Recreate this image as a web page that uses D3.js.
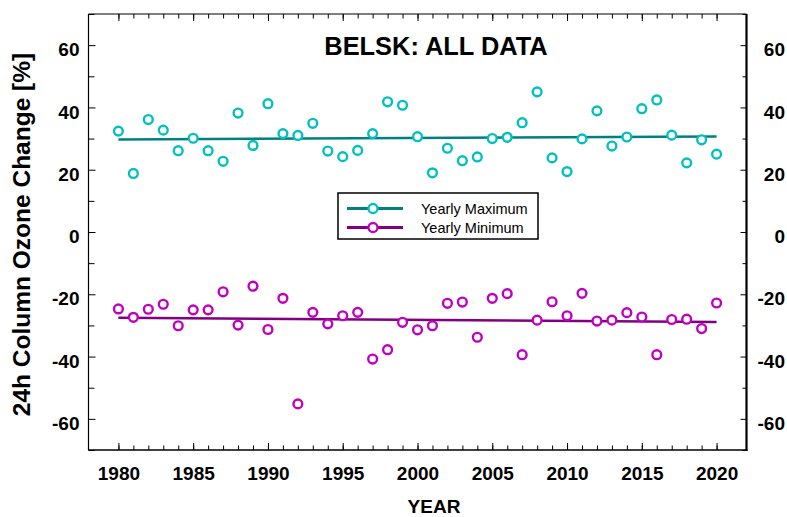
<!DOCTYPE html>
<html>
<head>
<meta charset="utf-8">
<script src="https://cdn.jsdelivr.net/npm/d3@7"></script>
<style>
  body { margin: 0; background: #fff; }
  text { font-family: "Liberation Sans", Arial, sans-serif; }
</style>
</head>
<body>
<script>
// data
var years = d3.range(1980, 2021);
var yearlyMax = [32.4, 18.8, 36.1, 32.7, 26.1, 30.1, 26.1, 22.7, 38.2, 27.8,
                 41.2, 31.6, 31.0, 34.9, 26.0, 24.2, 26.2, 31.6, 41.8, 40.7,
                 30.6, 19.0, 26.9, 22.9, 24.1, 30.0, 30.4, 35.1, 45.0, 23.8,
                 19.4, 29.9, 38.9, 27.6, 30.5, 39.6, 42.4, 31.1, 22.2, 29.6, 25.0];
var yearlyMin = [-24.7, -27.4, -24.8, -23.2, -30.1, -25.0, -25.0, -19.2, -29.9, -17.4,
                 -31.3, -21.3, -55.2, -25.8, -29.5, -26.9, -25.8, -40.8, -37.8, -29.0,
                 -31.4, -30.1, -22.9, -22.5, -33.8, -21.3, -19.8, -39.4, -28.3, -22.4,
                 -26.9, -19.7, -28.6, -28.3, -25.9, -27.3, -39.4, -28.1, -28.0, -31.0, -22.8];
// trend line end points (1980, 2020)
var trendYears = [1980, 2020];
var trendMax = [29.7, 30.7];
var trendMin = [-27.5, -28.9];
var yTicks = [-60, -40, -20, 0, 20, 40, 60];
var yMinorTicks = [-70, -50, -30, -10, 10, 30, 50, 70];
var xTicks = [1980, 1985, 1990, 1995, 2000, 2005, 2010, 2015, 2020];

var width = 787, height = 517;
var plotLeft = 88.5, plotRight = 746.5, plotTop = 14, plotBottom = 450;

var svg = d3.select("body").append("svg")
    .attr("width", width)
    .attr("height", height);

// scales
var x = d3.scaleLinear().domain([1978, 2022]).range([plotLeft, plotRight]);
var y = d3.scaleLinear().domain([-70, 70]).range([plotBottom, plotTop]);

// plain hyphen for negatives, like the original
function plainFormat(d) { return String(d); }

function styleAxis(g) {
    g.select(".domain").remove();
    g.selectAll("line").attr("stroke", "#000").attr("stroke-width", 1);
    g.selectAll("text")
        .style("font-size", "19px")
        .style("font-weight", "bold")
        .attr("fill", "#000");
}

// bottom axis, ticks pointing inward
svg.append("g")
    .attr("transform", "translate(0," + plotBottom + ")")
    .call(d3.axisBottom(x).tickValues(years).tickSize(-4.5).tickFormat(""))
    .call(styleAxis);
svg.append("g")
    .attr("transform", "translate(0," + plotBottom + ")")
    .call(d3.axisBottom(x).tickValues(xTicks).tickSize(-7).tickPadding(16.5).tickFormat(plainFormat))
    .call(styleAxis);

// top axis ticks
svg.append("g")
    .attr("transform", "translate(0," + plotTop + ")")
    .call(d3.axisTop(x).tickValues(years).tickSize(-4.5).tickFormat(""))
    .call(styleAxis);
svg.append("g")
    .attr("transform", "translate(0," + plotTop + ")")
    .call(d3.axisTop(x).tickValues(xTicks).tickSize(-7).tickFormat(""))
    .call(styleAxis);

// left axis
svg.append("g")
    .attr("transform", "translate(" + plotLeft + ",0)")
    .call(d3.axisLeft(y).tickValues(yMinorTicks).tickSize(-6).tickFormat(""))
    .call(styleAxis);
svg.append("g")
    .attr("transform", "translate(" + plotLeft + ",0)")
    .call(d3.axisLeft(y).tickValues(yTicks).tickSize(-7).tickPadding(9).tickFormat(plainFormat))
    .call(styleAxis)
    .selectAll("text").attr("dy", "0.56em");

// right axis, labels right aligned
svg.append("g")
    .attr("transform", "translate(" + plotRight + ",0)")
    .call(d3.axisRight(y).tickValues(yMinorTicks).tickSize(-4).tickFormat(""))
    .call(styleAxis);
svg.append("g")
    .attr("transform", "translate(" + plotRight + ",0)")
    .call(d3.axisRight(y).tickValues(yTicks).tickSize(-6).tickFormat(plainFormat))
    .call(styleAxis)
    .selectAll("text")
    .attr("x", 38.5)
    .attr("text-anchor", "end")
    .attr("dy", "0.56em");

// frame
svg.append("line").attr("x1", plotLeft).attr("x2", plotRight).attr("y1", plotTop).attr("y2", plotTop)
    .attr("stroke", "#000").attr("stroke-width", 1.2);
svg.append("line").attr("x1", plotLeft).attr("x2", plotLeft).attr("y1", plotTop).attr("y2", plotBottom)
    .attr("stroke", "#000").attr("stroke-width", 1.2);
svg.append("line").attr("x1", plotLeft).attr("x2", plotRight + 1).attr("y1", plotBottom).attr("y2", plotBottom)
    .attr("stroke", "#000").attr("stroke-width", 1.6);
svg.append("line").attr("x1", plotRight).attr("x2", plotRight).attr("y1", plotTop).attr("y2", plotBottom + 0.8)
    .attr("stroke", "#000").attr("stroke-width", 2.2);

// trend lines
var trendLine = d3.line()
    .x(function (d) { return x(d[0]); })
    .y(function (d) { return y(d[1]); });

svg.append("path")
    .datum(d3.zip(trendYears, trendMax))
    .attr("fill", "none")
    .attr("stroke", "#008080")
    .attr("stroke-width", 2.5)
    .attr("d", trendLine);

svg.append("path")
    .datum(d3.zip(trendYears, trendMin))
    .attr("fill", "none")
    .attr("stroke", "#800080")
    .attr("stroke-width", 2.5)
    .attr("d", trendLine);

// markers
svg.append("g").selectAll("circle")
    .data(d3.zip(years, yearlyMax))
    .enter().append("circle")
    .attr("cx", function (d) { return x(d[0]); })
    .attr("cy", function (d) { return y(d[1]); })
    .attr("r", 4.4)
    .attr("fill", "#fff")
    .attr("stroke", "#00c0c0")
    .attr("stroke-width", 2.4);

svg.append("g").selectAll("circle")
    .data(d3.zip(years, yearlyMin))
    .enter().append("circle")
    .attr("cx", function (d) { return x(d[0]); })
    .attr("cy", function (d) { return y(d[1]); })
    .attr("r", 4.4)
    .attr("fill", "#fff")
    .attr("stroke", "#c000c0")
    .attr("stroke-width", 2.4);

// title
svg.append("text")
    .attr("x", 436)
    .attr("y", 55)
    .attr("text-anchor", "middle")
    .style("font-size", "25.4px")
    .style("font-weight", "bold")
    .text("BELSK: ALL DATA");

// legend
var legend = svg.append("g").attr("transform", "translate(338,193)");
legend.append("rect")
    .attr("width", 200)
    .attr("height", 46)
    .attr("fill", "#fff")
    .attr("stroke", "#000")
    .attr("stroke-width", 1.5);

var legendItems = [
    { label: "Yearly Maximum", line: "#008080", mark: "#00c0c0" },
    { label: "Yearly Minimum", line: "#800080", mark: "#c000c0" }
];
legendItems.forEach(function (d, i) {
    var yy = 15.5 + i * 19;
    legend.append("line")
        .attr("x1", 9).attr("x2", 65)
        .attr("y1", yy).attr("y2", yy)
        .attr("stroke", d.line)
        .attr("stroke-width", 3.2);
    legend.append("circle")
        .attr("cx", 35).attr("cy", yy)
        .attr("r", 4.5)
        .attr("fill", "#fff")
        .attr("stroke", d.mark)
        .attr("stroke-width", 2.3);
    legend.append("text")
        .attr("x", 83)
        .attr("y", yy + 5)
        .style("font-size", "14.5px")
        .text(d.label);
});

// axis labels
svg.append("text")
    .attr("transform", "translate(30," + 234.5 + ") rotate(-90)")
    .attr("text-anchor", "middle")
    .style("font-size", "24.5px")
    .style("font-weight", "bold")
    .text("24h Column Ozone Change [%]");

svg.append("text")
    .attr("x", 434)
    .attr("y", 513)
    .attr("text-anchor", "middle")
    .style("font-size", "19px")
    .style("font-weight", "bold")
    .text("YEAR");
</script>
</body>
</html>
